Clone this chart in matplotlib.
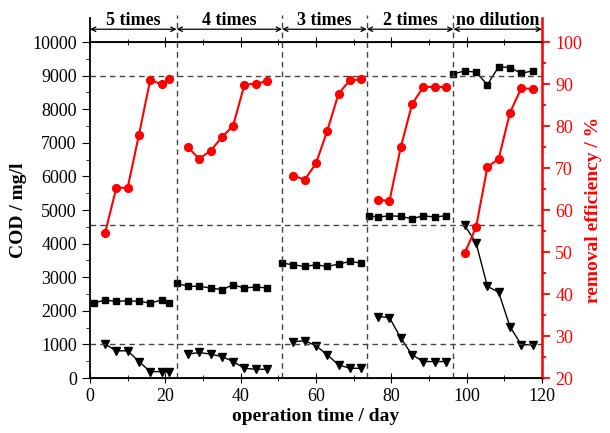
import matplotlib.pyplot as plt
from matplotlib.ticker import MultipleLocator
import matplotlib.transforms as mtransforms

plt.rcParams['font.family'] = ['Liberation Serif', 'DejaVu Serif']

# phase boundaries (day) and names
bounds = [0, 23, 51, 73.5, 96.5, 120]
phase_names = ["5 times", "4 times", "3 times", "2 times", "no dilution"]

# influent COD (squares)
sq_days = [
    [1, 4, 7, 10, 13, 16, 19, 21],
    [23, 26, 29, 32, 35, 38, 41, 44, 47],
    [51, 54, 57, 60, 63, 66, 69, 72],
    [74, 76.5, 79.5, 82.5, 85.5, 88.5, 91.5, 94.5],
    [96.5, 99.5, 102.5, 105.5, 108.5, 111.5, 114.5, 117.5],
]
sq_cod = [
    [2230, 2320, 2280, 2300, 2280, 2230, 2320, 2230],
    [2820, 2730, 2730, 2680, 2630, 2770, 2680, 2710, 2680],
    [3420, 3370, 3320, 3370, 3320, 3390, 3470, 3420],
    [4830, 4790, 4830, 4810, 4740, 4830, 4790, 4830],
    [9050, 9140, 9100, 8730, 9260, 9240, 9070, 9140],
]

# effluent COD (triangles) and removal efficiency (red circles)
out_days = [
    [4, 7, 10, 13, 16, 19, 21],
    [26, 29, 32, 35, 38, 41, 44, 47],
    [54, 57, 60, 63, 66, 69, 72],
    [76.5, 79.5, 82.5, 85.5, 88.5, 91.5, 94.5],
    [99.5, 102.5, 105.5, 108.5, 111.5, 114.5, 117.5],
]
tri_cod = [
    [1010, 810, 810, 490, 190, 190, 170],
    [710, 760, 710, 640, 490, 290, 260, 260],
    [1080, 1110, 960, 690, 390, 290, 290],
    [1830, 1800, 1190, 690, 490, 490, 490],
    [4540, 4020, 2730, 2550, 1530, 990, 990],
]
eff = [
    [54.5, 65.3, 65.3, 77.9, 91.0, 89.9, 91.1],
    [74.9, 72.2, 74.1, 77.3, 80.1, 89.8, 90.1, 90.6],
    [68.2, 67.2, 71.1, 78.9, 87.7, 90.9, 91.1],
    [62.5, 62.1, 74.9, 85.2, 89.3, 89.3, 89.3],
    [49.8, 55.9, 70.2, 72.2, 83.2, 89.0, 88.8],
]

hlines = [9000, 4550, 1000]

fig = plt.figure(figsize=(6.1, 4.33), dpi=100)
ax = fig.add_axes([0.1475, 0.127, 0.741, 0.776])
ax2 = ax.twinx()

for i in range(len(phase_names)):
    ax.plot(sq_days[i], sq_cod[i], '-s', color='k', ms=4.8, lw=1.0)
    ax.plot(out_days[i], tri_cod[i], '-v', color='k', ms=5.8, lw=1.0)
    ax2.plot(out_days[i], eff[i], '-o', color='red', ms=5.6, lw=1.5)

for h in hlines:
    ax.axhline(h, color='#444444', ls=(0, (4, 3)), lw=1.0)

trans = mtransforms.blended_transform_factory(ax.transData, ax.transAxes)
for b in bounds[1:-1]:
    ax.plot([b, b], [0, 1.08], transform=trans, color='#444444',
            ls=(0, (4, 3)), lw=1.0, clip_on=False)
ax.plot([0, 0], [1.0, 1.07], transform=trans, color='k', lw=1.3, clip_on=False)
ax.plot([120, 120], [1.0, 1.07], transform=trans, color='red', lw=1.8, clip_on=False)

for i, name in enumerate(phase_names):
    ax.annotate('', xy=(bounds[i], 1.038), xytext=(bounds[i + 1], 1.038),
                xycoords=trans, textcoords=trans,
                arrowprops=dict(arrowstyle='<->', color='k', lw=0.9,
                                shrinkA=0, shrinkB=0, mutation_scale=8))
    ax.text((bounds[i] + bounds[i + 1]) / 2, 1.038, name, transform=trans,
            ha='center', va='bottom', fontsize=13, fontweight='bold')

ax.set_xlim(0, 120)
ax.set_ylim(0, 10000)
ax2.set_ylim(20, 100)

ax.xaxis.set_major_locator(MultipleLocator(20))
ax.xaxis.set_minor_locator(MultipleLocator(10))
ax.yaxis.set_major_locator(MultipleLocator(1000))
ax.yaxis.set_minor_locator(MultipleLocator(500))
ax2.yaxis.set_major_locator(MultipleLocator(10))
ax2.yaxis.set_minor_locator(MultipleLocator(5))

ax.tick_params(axis='x', which='both', top=True, direction='inout', labelsize=13)
ax.tick_params(axis='x', which='major', length=7)
ax.tick_params(axis='x', which='minor', length=4)
ax.tick_params(axis='y', which='major', length=6, direction='out', labelsize=13)
ax.tick_params(axis='y', which='minor', length=3, direction='out')
ax2.tick_params(axis='y', which='major', length=6, direction='out', colors='red',
                labelsize=13, width=1.3)
ax2.tick_params(axis='y', which='minor', length=3, direction='out', colors='red', width=1.3)

for s in ['left', 'top', 'bottom']:
    ax.spines[s].set_linewidth(1.3)
ax2.spines['right'].set_color('red')
ax2.spines['right'].set_linewidth(1.8)
ax2.spines['left'].set_visible(False)

ax.set_xlabel('operation time / day', fontsize=14, fontweight='bold', labelpad=2)
ax.set_ylabel('COD / mg/l', fontsize=14, fontweight='bold', labelpad=4)
ax2.set_ylabel('removal efficiency / %', fontsize=14, fontweight='bold',
               color='red', labelpad=2)

fig.savefig('out.png', dpi=100)
